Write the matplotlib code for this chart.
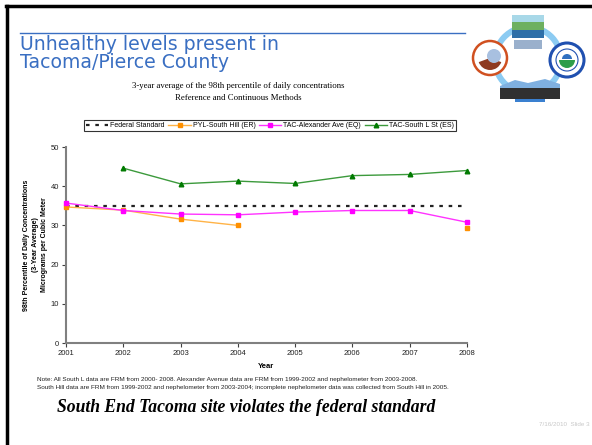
import matplotlib
matplotlib.use("Agg")
import matplotlib.pyplot as plt
import numpy as np
from matplotlib.patches import Circle, Rectangle, Wedge, Polygon
from matplotlib.lines import Line2D

years = [2001, 2002, 2003, 2004, 2005, 2006, 2007, 2008]
federal_standard = [35, 35, 35, 35, 35, 35, 35, 35]
south_hill = [34.7, 33.9, 31.6, 30.0, np.nan, np.nan, np.nan, 29.4]
alexander = [35.7, 33.8, 32.9, 32.7, 33.4, 33.8, 33.8, 30.8]
south_l = [np.nan, 44.6, 40.6, 41.3, 40.7, 42.7, 43.0, 44.0]
yticks = [0, 10, 20, 30, 40, 50]

W, H = 592, 445
fig = plt.figure(figsize=(W / 100, H / 100), dpi=100)
fig.patch.set_facecolor("white")

def fx(x):
    return x / W

def fy(y):
    return 1 - y / H

# slide frame (left and top)
fig.add_artist(Line2D([fx(6.5), fx(6.5)], [fy(5.5), 0], color="black", lw=2.5, transform=fig.transFigure))
fig.add_artist(Line2D([fx(5.5), 1], [fy(5.5), fy(5.5)], color="black", lw=2.5, transform=fig.transFigure))

# title
blue = "#3A6FC2"
fig.add_artist(Line2D([fx(20), fx(465)], [fy(32.5), fy(32.5)], color=blue, lw=1.0, transform=fig.transFigure))
fig.text(fx(20), fy(44), "Unhealthy levels present in", color=blue, fontsize=13.6,
         family="DejaVu Sans", va="center", ha="left")
fig.text(fx(20), fy(63), "Tacoma/Pierce County", color=blue, fontsize=13.6,
         family="DejaVu Sans", va="center", ha="left")

# subtitle
fig.text(fx(238), fy(86.5), "3-year average of the 98th percentile of daily concentrations",
         fontsize=6.3, family="Liberation Serif", ha="center", va="center")
fig.text(fx(238), fy(98.5), "Reference and Continuous Methods",
         fontsize=6.3, family="Liberation Serif", ha="center", va="center")

# logo (approximation) - drawn in pixel space via an overlay axes
lax = fig.add_axes([0, 0, 1, 1], zorder=-1)
lax.set_xlim(0, W)
lax.set_ylim(H, 0)
lax.axis("off")
lax.set_aspect("auto")
for t1, t2 in [(20, 75), (105, 160), (195, 250), (290, 345)]:
    lax.add_patch(Wedge((528, 60), 36, t1, t2, width=6, facecolor="#8CCBF2", edgecolor="none"))
lax.add_patch(Circle((490, 58), 17, facecolor="white", edgecolor="#D05020", lw=1.8))
lax.add_patch(Wedge((490, 58), 12, 20, 160, facecolor="#8E3A20", edgecolor="none"))
lax.add_patch(Circle((494, 56), 7, facecolor="#A8C0E0", edgecolor="none"))
lax.add_patch(Circle((567, 60), 17, facecolor="white", edgecolor="#2050B0", lw=2.2))
lax.add_patch(Circle((567, 60), 11, facecolor="white", edgecolor="#2050B0", lw=0.8))
lax.add_patch(Wedge((567, 60), 8, 0, 180, facecolor="#2E9E4A", edgecolor="none"))
lax.add_patch(Wedge((567, 59), 5, 180, 360, facecolor="#3070C0", edgecolor="none"))
lax.add_patch(Rectangle((512, 15), 32, 9, facecolor="#A8D8E8", edgecolor="none"))
lax.add_patch(Rectangle((512, 22), 32, 8, facecolor="#6DB060", edgecolor="none"))
lax.add_patch(Rectangle((512, 30), 32, 8, facecolor="#2E6FA8", edgecolor="none"))
lax.add_patch(Rectangle((514, 40), 28, 9, facecolor="#9AB0CC", edgecolor="none"))
lax.add_patch(Polygon([(500, 86), (515, 80), (528, 83), (545, 79), (560, 84), (560, 88), (500, 88)],
                      closed=True, facecolor="#7FB0E0", edgecolor="none"))
lax.add_patch(Rectangle((500, 88), 60, 11, facecolor="#303030", edgecolor="none"))
lax.add_patch(Rectangle((515, 99), 30, 3, facecolor="#3A80D0", edgecolor="none"))

# axes
ax = fig.add_axes([fx(66), fy(343), fx(467) - fx(66), fy(147) - fy(343)])
ax.patch.set_alpha(0)
gray = "#808080"
for s in ["top", "right"]:
    ax.spines[s].set_visible(False)
for s in ["left", "bottom"]:
    ax.spines[s].set_color(gray)
    ax.spines[s].set_linewidth(1.5)
ax.set_xlim(2001, 2008)
ax.set_ylim(0, 50)
ax.set_yticks(yticks)
ax.set_xticks(years)
ax.tick_params(axis="both", length=3, width=0.8, color="#404040", labelsize=5.5, pad=2,
               labelcolor="#222222")
for lab in ax.get_xticklabels() + ax.get_yticklabels():
    lab.set_family("Liberation Sans")

ax.plot(years, federal_standard, color="#222222", lw=1.6, linestyle=(0, (1.6, 2.6)),
        label="Federal Standard", clip_on=False, zorder=2)
ax.plot(years, south_hill, color="#FFB347", lw=1.0, marker="s", markersize=3.0,
        markerfacecolor="#FF9000", markeredgecolor="#FF9000",
        label="PYL-South Hill (ER)", clip_on=False, zorder=3)
ax.plot(years, alexander, color="#FF33FF", lw=1.0, marker="s", markersize=3.0,
        markerfacecolor="#FF00FF", markeredgecolor="#FF00FF",
        label="TAC-Alexander Ave (EQ)", clip_on=False, zorder=4)
ax.plot(years, south_l, color="#3C9A3C", lw=1.0, marker="^", markersize=3.3,
        markerfacecolor="#007A00", markeredgecolor="#007A00",
        label="TAC-South L St (ES)", clip_on=False, zorder=4)

ax.set_xlabel("Year", fontsize=5.5, fontweight="bold", family="Liberation Sans", labelpad=4)
fig.text(fx(35.5), fy(245), "98th Percentile of Daily Concentrations\n(3-Year Average)\nMicrograms per Cubic Meter",
         rotation=90, ha="center", va="center", fontsize=5, fontweight="bold",
         family="Liberation Sans", linespacing=1.35)

leg = fig.legend(handles=ax.get_lines(), loc="center", bbox_to_anchor=(fx(270), fy(125.5)), ncol=4,
                 frameon=True, fancybox=False, edgecolor="black", handlelength=3.2,
                 handletextpad=0.3, columnspacing=0.5, borderpad=0.25,
                 prop={"family": "Liberation Sans", "size": 5.0})
leg.get_frame().set_linewidth(0.8)

# notes
fig.text(fx(37), fy(379), "Note: All South L data are FRM from 2000- 2008. Alexander Avenue data are FRM from 1999-2002 and nephelometer from 2003-2008.",
         fontsize=4.6, family="Liberation Sans", ha="left", va="center", color="#222222")
fig.text(fx(37), fy(388), "South Hill data are FRM from 1999-2002 and nephelometer from 2003-2004; incomplete nephelometer data was collected from South Hill in 2005.",
         fontsize=4.6, family="Liberation Sans", ha="left", va="center", color="#222222")

fig.text(fx(246.5), fy(407), "South End Tacoma site violates the federal standard",
         fontsize=12.7, family="Liberation Serif", fontweight="bold", style="italic",
         ha="center", va="center")

fig.text(fx(590), fy(424), "7/16/2010  Slide 3", fontsize=4.5, color="#C8C8C8",
         family="Liberation Sans", ha="right", va="center")

fig.savefig("out.png", dpi=100, facecolor="white")
